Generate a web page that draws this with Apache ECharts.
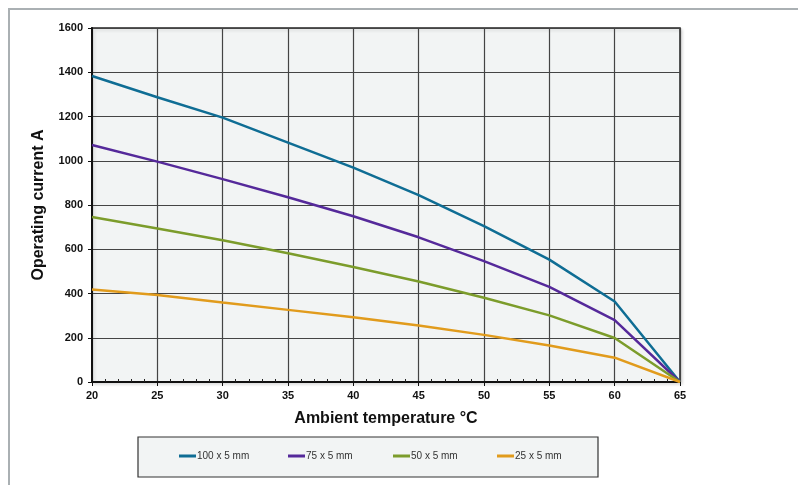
<!DOCTYPE html>
<html>
<head>
<meta charset="utf-8">
<script src="https://cdn.jsdelivr.net/npm/echarts@6/dist/echarts.min.js"></script>
<style>
  html, body { margin: 0; padding: 0; background: #fff; }
  #graph { width: 798px; height: 485px; }
</style>
</head>
<body>
<div id="graph"></div>
<script>
// ambient temperature (°C)
var temps = [20, 25, 30, 35, 40, 45, 50, 55, 60, 65];
// operating current (A) per busbar size
var bar100 = [1383, 1287, 1195, 1082, 969, 845, 705, 553, 364, 0];
var bar75 = [1071, 996, 917, 835, 749, 654, 546, 430, 280, 0];
var bar50 = [746, 694, 641, 582, 520, 454, 381, 301, 199, 0];
var bar25 = [418, 393, 359, 326, 293, 255, 213, 165, 110, 0];
var names = ['100 x 5 mm', '75 x 5 mm', '50 x 5 mm', '25 x 5 mm'];
var colors = ['#0f6d94', '#55299a', '#7c9c2b', '#e19b1c'];

function pairs(vals) {
    return temps.map(function (t, i) { return [t, vals[i]]; });
}

var myChart = echarts.init(document.getElementById('graph'));

var labelFont = {
    color: '#111',
    fontSize: 11,
    fontWeight: 'bold',
    fontFamily: 'Liberation Sans, Arial, sans-serif'
};

var legendX = [179, 288, 393, 497];
var legends = names.map(function (n, i) {
    return {
        data: [n],
        left: legendX[i],
        top: 451,
        icon: 'rect',
        itemWidth: 17,
        itemHeight: 3,
        padding: 0,
        textStyle: {
            color: '#333',
            fontSize: 10,
            fontFamily: 'Liberation Sans, Arial, sans-serif',
            padding: [0, 0, 0, -4]
        }
    };
});

var option = {
    animation: false,
    graphic: [
        {
            type: 'polyline',
            shape: { points: [[9, 485], [9, 9], [798, 9]] },
            style: { stroke: '#aab0b3', lineWidth: 2, fill: null }
        },
        {
            type: 'rect',
            shape: { x: 138, y: 437, width: 460, height: 40 },
            style: { fill: '#f2f4f4', stroke: '#333', lineWidth: 1.2 },
            z: -1
        }
    ],
    grid: {
        left: 92,
        right: 118,
        top: 28,
        bottom: 103,
        show: true,
        backgroundColor: '#f2f4f4',
        borderColor: '#222',
        borderWidth: 1.5,
        shadowColor: 'rgba(0,0,0,0.12)',
        shadowBlur: 3,
        shadowOffsetX: 2,
        shadowOffsetY: 2
    },
    legend: legends,
    xAxis: [
        {
            type: 'value',
            min: 20,
            max: 65,
            interval: 5,
            name: 'Ambient temperature °C',
            nameLocation: 'middle',
            nameGap: 29,
            nameTextStyle: {
                color: '#111',
                fontSize: 16,
                fontWeight: 'bold',
                fontFamily: 'Liberation Sans, Arial, sans-serif'
            },
            axisLine: { lineStyle: { color: '#111', width: 2 } },
            axisTick: { show: true, length: 4, lineStyle: { color: '#111' } },
            axisLabel: Object.assign({ margin: 8 }, labelFont),
            splitLine: { show: true, lineStyle: { color: '#444', width: 1.2 } }
        },
        {
            type: 'value',
            min: 20,
            max: 65,
            interval: 5,
            position: 'bottom',
            axisLine: { show: false },
            axisTick: { show: false, inside: true },
            minorTick: { show: true, splitNumber: 5, length: 3, lineStyle: { color: '#222', width: 1 } },
            axisLabel: { show: false },
            splitLine: { show: false }
        }
    ],
    yAxis: {
        type: 'value',
        min: 0,
        max: 1600,
        interval: 200,
        name: 'Operating current A',
        nameLocation: 'middle',
        nameGap: 45,
        nameTextStyle: {
            color: '#111',
            fontSize: 16,
            fontWeight: 'bold',
            fontFamily: 'Liberation Sans, Arial, sans-serif'
        },
        axisLine: { show: true, lineStyle: { color: '#111', width: 2 } },
        axisTick: { show: true, length: 4, lineStyle: { color: '#111' } },
        axisLabel: Object.assign({ margin: 9, formatter: function (v) { return String(v); } }, labelFont),
        splitLine: { show: true, lineStyle: { color: '#444', width: 1.2 } }
    },
    series: [bar100, bar75, bar50, bar25].map(function (vals, i) {
        return {
            name: names[i],
            type: 'line',
            data: pairs(vals),
            showSymbol: false,
            symbol: 'none',
            lineStyle: { color: colors[i], width: 2.5 },
            itemStyle: { color: colors[i] },
            z: 3
        };
    })
};

myChart.setOption(option);
</script>
</body>
</html>
